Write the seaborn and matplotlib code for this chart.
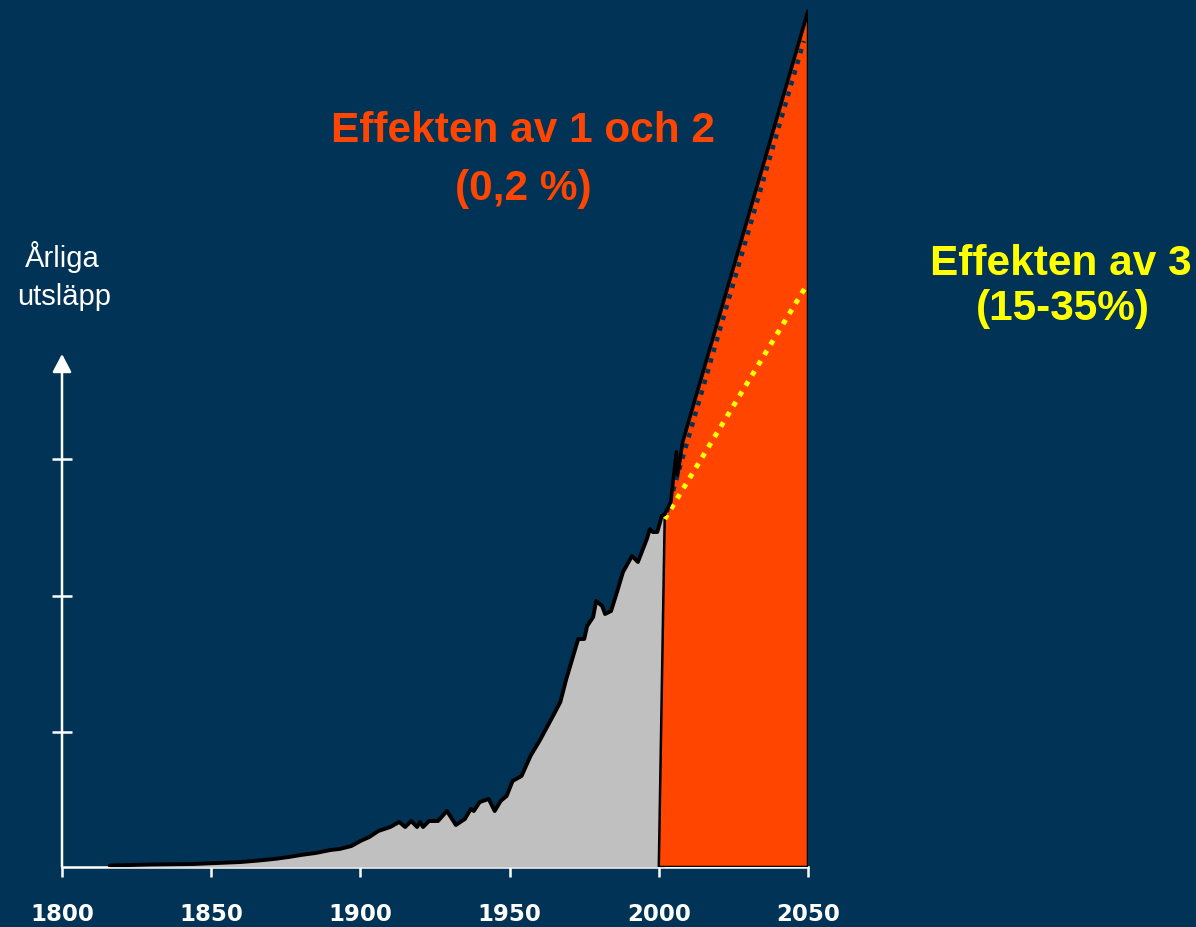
import matplotlib
matplotlib.use("Agg")
import matplotlib.pyplot as plt
import seaborn as sns
import pandas as pd

# ---- data (arbitrary emission units) ----
hist_years = [1816, 1830, 1844, 1852, 1860, 1866, 1871, 1876, 1880, 1885, 1890, 1893,
              1897, 1900, 1903, 1906, 1910, 1913, 1915, 1917, 1919, 1920, 1921, 1923,
              1926, 1929, 1932, 1935, 1937, 1938, 1940, 1943, 1945, 1947, 1949, 1951,
              1954, 1957, 1960, 1964, 1967, 1969, 1971, 1973, 1975, 1976, 1978, 1979,
              1981, 1982, 1984, 1986, 1988, 1991, 1993, 1996, 1997, 1998, 1999.5, 2001,
              2002]
hist_values = [1.5, 2.5, 3, 4, 5, 6.5, 8, 10, 12, 14, 17, 18,
               21, 26, 30, 36, 40, 45, 40, 46, 40, 45, 40, 46,
               46, 56, 42, 48, 58, 56, 65, 68, 56, 66, 71, 86,
               91, 111, 126, 148, 165, 188, 208, 228, 228, 241, 250, 266,
               261, 253, 256, 275, 295, 311, 305, 328, 338, 335, 335, 351,
               353]

proj_years = [2002, 2004, 2005.9, 2006.3, 2008, 2050]
proj_values = [353, 365, 415, 392, 425, 856]

measure12_years = [2002.7, 2048.6]
measure12_values = [355, 826]
measure3_years = [2002, 2050]
measure3_values = [348, 584]

xticks = [1800, 1850, 1900, 1950, 2000, 2050]
yticks = [135, 271, 408]

NAVY = "#003355"
RED = "#FF4500"
GRAY = "#C0C0C0"
YELLOW = "#FFFF00"

sns.set_style("white", {"axes.facecolor": NAVY, "figure.facecolor": NAVY})
plt.rcParams["font.family"] = ["Liberation Sans", "DejaVu Sans"]

W, H = 1196, 928
fig = plt.figure(figsize=(W / 100, H / 100), dpi=100)
fig.patch.set_facecolor(NAVY)
ax = fig.add_axes([62 / W, 60 / H, 746 / W, 868 / H])
ax.set_facecolor(NAVY)
ax.set_xlim(1800, 2050)
ax.set_ylim(0, 868)

hist = pd.DataFrame({"year": hist_years, "value": hist_values})
proj = pd.DataFrame({"year": proj_years, "value": proj_values})

# gray historical area
ax.fill_between(hist["year"], 0, hist["value"], color=GRAY, lw=0, zorder=1)

# red scenario area
red_x = [2000] + proj_years + [2050]
red_y = [0] + proj_values + [0]
ax.fill(red_x, red_y, facecolor=RED, edgecolor="black", lw=1.8, zorder=2)

# dotted lines
ax.plot(measure3_years, measure3_values, color=YELLOW, lw=3.6,
        linestyle=(0, (1, 1.4)), zorder=3)
ax.plot(measure12_years, measure12_values, color=NAVY, lw=3.2,
        linestyle=(0, (1, 1.5)), zorder=3)

# black curves
sns.lineplot(data=hist, x="year", y="value", color="black", lw=2.8, ax=ax,
             zorder=4, sort=False)
sns.lineplot(data=proj, x="year", y="value", color="black", lw=2.6, ax=ax,
             zorder=4, sort=False)

# axes styling
for s in ["top", "right", "left"]:
    ax.spines[s].set_visible(False)
ax.spines["bottom"].set_color("white")
ax.spines["bottom"].set_linewidth(1.8)
ax.spines["bottom"].set_zorder(0.5)

ax.annotate("", xy=(1800, 513), xytext=(1800, 0),
            arrowprops=dict(arrowstyle="-|>,head_length=1.1,head_width=0.58",
                            color="white", lw=1.8, shrinkA=0, shrinkB=0),
            annotation_clip=False, zorder=5)

ax.set_xticks(xticks)
ax.set_xticklabels([str(x) for x in xticks], fontweight="bold", color="white",
                   fontsize=16.5, family="DejaVu Sans")
ax.tick_params(axis="x", direction="out", length=7, width=1.8, color="white",
               pad=18, bottom=True)
ax.set_yticks(yticks)
ax.set_yticklabels([])
ax.tick_params(axis="y", direction="inout", length=14.4, width=1.8, color="white",
               left=True)
ax.set_xlabel("")
ax.set_ylabel("")

def ftext(x, y, s, **kw):
    fig.text(x / W, 1 - y / H, s, ha="center", va="baseline", **kw)

ftext(523, 142, "Effekten av 1 och 2", color=RED, fontsize=30.5, fontweight="bold")
ftext(523, 200, "(0,2 %)", color=RED, fontsize=30.5, fontweight="bold")
ftext(1061, 275, "Effekten av 3", color=YELLOW, fontsize=30.5, fontweight="bold")
ftext(1063, 320, "(15-35%)", color=YELLOW, fontsize=30.5, fontweight="bold")
ftext(62, 267, "Årliga", color="white", fontsize=21)
ftext(64, 305, "utsläpp", color="white", fontsize=21)

fig.savefig("out.png", dpi=100, facecolor=NAVY)
